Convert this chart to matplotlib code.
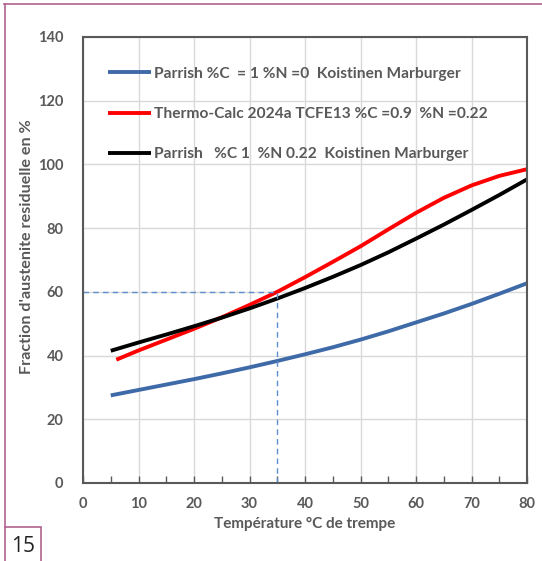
import matplotlib
matplotlib.use('Agg')
import matplotlib.pyplot as plt
import matplotlib.ticker as ticker
from matplotlib.lines import Line2D
from matplotlib.patches import Rectangle

plt.rcParams['font.family'] = ['Lato', 'DejaVu Sans']

# Données
temp_parrish = [5, 10, 15, 20, 25, 30, 35, 40, 45, 50, 55, 60, 65, 70, 75, 80]
parrish_n0 = [27.5, 29.2, 30.9, 32.6, 34.4, 36.3, 38.3, 40.4, 42.6, 45.0, 47.6, 50.4, 53.2, 56.2, 59.4, 62.7]
parrish_n022 = [41.5, 44.1, 46.6, 49.2, 51.9, 54.8, 57.9, 61.2, 64.7, 68.4, 72.4, 76.7, 81.1, 85.7, 90.4, 95.3]

temp_tc = [6, 10, 15, 20, 25, 30, 35, 40, 45, 50, 55, 60, 65, 70, 75, 80]
thermocalc = [38.7, 41.6, 45.0, 48.4, 52.0, 55.9, 60.0, 64.6, 69.4, 74.3, 79.6, 84.8, 89.5, 93.4, 96.4, 98.5]

labels = ['Parrish %C  = 1 %N =0  Koistinen Marburger',
          'Thermo-Calc 2024a TCFE13 %C =0.9  %N =0.22',
          'Parrish   %C 1  %N 0.22  Koistinen Marburger']

t_lecture = 35
y_lecture = 60

gris = '#595959'

fig = plt.figure(figsize=(5.42, 5.61), dpi=100)
ax = fig.add_axes([83 / 542, 78 / 561, 444 / 542, 446 / 561])

ax.plot(temp_parrish, parrish_n0, color='#3f6aa8', lw=2.8, label=labels[0], solid_capstyle='butt')
ax.plot(temp_tc, thermocalc, color='#ff0000', lw=2.8, label=labels[1], solid_capstyle='butt')
ax.plot(temp_parrish, parrish_n022, color='#000000', lw=2.8, label=labels[2], solid_capstyle='butt')

# lignes de lecture en pointillés
ax.plot([0, t_lecture], [y_lecture, y_lecture], color='#5b8fd0', lw=1, ls=(0, (4, 3)))
ax.plot([t_lecture, t_lecture], [0, y_lecture], color='#5b8fd0', lw=1, ls=(0, (4, 3)))

ax.set_xlim(0, 80)
ax.set_ylim(0, 140)
ax.xaxis.set_major_locator(ticker.MultipleLocator(10))
ax.xaxis.set_minor_locator(ticker.MultipleLocator(5))
ax.yaxis.set_major_locator(ticker.MultipleLocator(20))
ax.grid(True, which='major', color='#d9d9d9', lw=1)
ax.set_axisbelow(True)
ax.tick_params(axis='x', which='both', direction='in', length=5, width=1, color=gris,
               labelsize=10.5, labelcolor=gris, pad=10)
ax.tick_params(axis='y', length=0, labelsize=10.5, labelcolor=gris, pad=14)
for lab in ax.get_xticklabels() + ax.get_yticklabels():
    lab.set_fontweight('bold')
for s in ax.spines.values():
    s.set_color(gris)
    s.set_linewidth(1.5)

ax.set_xlabel('Température °C de trempe', fontsize=11, fontweight='bold', color=gris, labelpad=4)
ax.set_ylabel("Fraction d'austenite residuelle en %", fontsize=11.6, fontweight='bold', color=gris)
ax.yaxis.set_label_coords(-0.110, 0.529)

leg = ax.legend(loc='upper left', bbox_to_anchor=(0.056, 0.933), frameon=False,
                fontsize=11.2, handlelength=2.8, handletextpad=0.15, labelspacing=1.68,
                borderpad=0, borderaxespad=0)
for txt in leg.get_texts():
    txt.set_color(gris)
    txt.set_fontweight('bold')

# cadre de la page
mauve = '#b0638f'
W, H = 542, 561
fig.add_artist(Line2D([4 / W, 1], [1 - 4 / H, 1 - 4 / H], color=mauve, lw=1.2, transform=fig.transFigure))
fig.add_artist(Line2D([5 / W, 5 / W], [1 - 4 / H, 34 / H], color=mauve, lw=1.2, transform=fig.transFigure))
fig.add_artist(Rectangle((5 / W, -0.01), 36 / W, 34 / H + 0.01, fill=False, edgecolor=mauve, lw=1.2,
                         transform=fig.transFigure))
fig.text(23 / W, 15 / H, '15', fontsize=15, ha='center', va='center', color='#222222',
         family=['Open Sans', 'DejaVu Sans'])

fig.savefig('out.png', dpi=100)
